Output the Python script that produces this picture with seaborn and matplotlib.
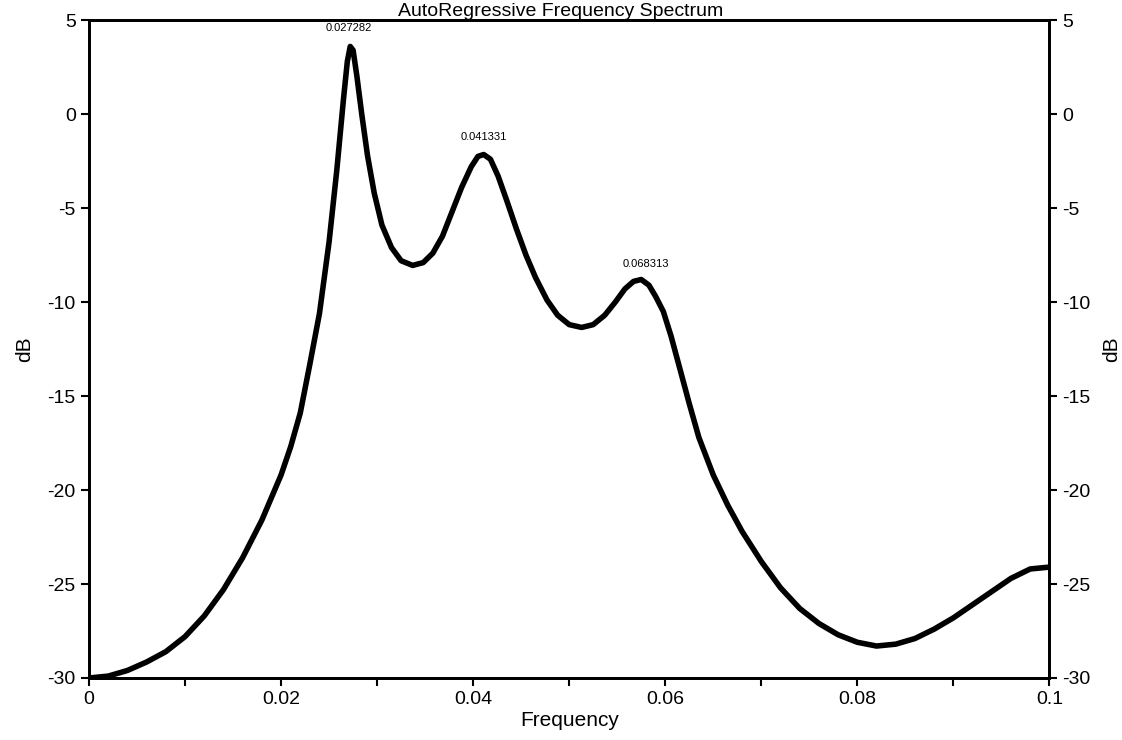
import matplotlib
matplotlib.use("Agg")
import matplotlib.pyplot as plt
import seaborn as sns
import pandas as pd

# values
freq = [0.0, 0.002, 0.004, 0.006, 0.008, 0.010, 0.012, 0.014, 0.016, 0.018,
        0.020, 0.021, 0.022, 0.023, 0.024, 0.025, 0.0258, 0.0265, 0.0269, 0.0272,
        0.0275, 0.0279, 0.0284, 0.029, 0.0297, 0.0305, 0.0315, 0.0325, 0.0337, 0.0348,
        0.0358, 0.0368, 0.0378, 0.0388, 0.0398, 0.0405, 0.0411, 0.0418, 0.0426, 0.0435,
        0.0445, 0.0455, 0.0465, 0.0477, 0.0488, 0.050, 0.0513, 0.0525, 0.0537, 0.0548,
        0.0558, 0.0567, 0.0575, 0.0583, 0.059, 0.0598, 0.0606, 0.0615, 0.0625, 0.0635,
        0.065, 0.0665, 0.068, 0.070, 0.072, 0.074, 0.076, 0.078, 0.080, 0.082,
        0.084, 0.086, 0.088, 0.090, 0.092, 0.094, 0.096, 0.098, 0.100]
db = [-30.0, -29.9, -29.6, -29.15, -28.6, -27.8, -26.7, -25.3, -23.6, -21.6,
      -19.2, -17.7, -15.9, -13.3, -10.6, -6.8, -3.0, 0.8, 2.8, 3.6,
      3.4, 2.0, 0.0, -2.2, -4.2, -5.9, -7.1, -7.8, -8.05, -7.9,
      -7.4, -6.5, -5.2, -3.9, -2.8, -2.25, -2.15, -2.4, -3.3, -4.6,
      -6.1, -7.5, -8.7, -9.9, -10.7, -11.2, -11.35, -11.2, -10.7, -10.0,
      -9.3, -8.9, -8.8, -9.1, -9.7, -10.5, -11.8, -13.5, -15.4, -17.2,
      -19.2, -20.8, -22.2, -23.8, -25.2, -26.3, -27.1, -27.7, -28.1, -28.3,
      -28.2, -27.9, -27.4, -26.8, -26.1, -25.4, -24.7, -24.2, -24.1]

peak_freq = [0.0271, 0.0411, 0.0580]
peak_db = [4.6, -1.2, -8.0]
peak_labels = ["0.027282", "0.041331", "0.068313"]

x_ticks = [0, 0.02, 0.04, 0.06, 0.08, 0.1]
x_ticklabels = ["0", "0.02", "0.04", "0.06", "0.08", "0.1"]
y_ticks = [5, 0, -5, -10, -15, -20, -25, -30]

spec_df = pd.DataFrame({"Frequency": freq, "dB": db})

sns.set_style("ticks")
plt.rcParams["font.family"] = ["Liberation Sans", "DejaVu Sans"]
plt.rcParams["axes.unicode_minus"] = False
plt.rcParams["text.color"] = "black"
plt.rcParams["axes.labelcolor"] = "black"
plt.rcParams["xtick.color"] = "black"
plt.rcParams["ytick.color"] = "black"

fig = plt.figure(figsize=(11.22, 7.4), dpi=100)
ax = fig.add_axes([0.0793, 0.0838, 0.856, 0.889])

sns.lineplot(data=spec_df, x="Frequency", y="dB", ax=ax, color="black", linewidth=4, sort=False)

ax.set_xlim(0, 0.1)
ax.set_ylim(-30, 5)
ax.set_xticks(x_ticks)
ax.set_xticklabels(x_ticklabels)
ax.set_xticks([0.01, 0.03, 0.05, 0.07, 0.09], minor=True)
ax.set_yticks(y_ticks)
ax.tick_params(axis="both", which="both", direction="out", length=6, width=1.5,
               labelsize=14, colors="black")
ax.set_xlabel("Frequency", fontsize=15, labelpad=2)
ax.set_ylabel("dB", fontsize=15, labelpad=10)

for s in ax.spines.values():
    s.set_visible(True)
    s.set_linewidth(2)
    s.set_color("black")

ax2 = ax.twinx()
ax2.set_ylim(-30, 5)
ax2.set_yticks(y_ticks)
ax2.tick_params(axis="y", direction="out", length=6, width=1.5, labelsize=14, colors="black")
ax2.set_ylabel("dB", fontsize=15, rotation=90, labelpad=8)
for s in ax2.spines.values():
    s.set_linewidth(2)
    s.set_color("black")

for fx, fy, lab in zip(peak_freq, peak_db, peak_labels):
    ax.text(fx, fy, lab, ha="center", va="center", fontsize=8)

fig.text(0.5, 0.985, "AutoRegressive Frequency Spectrum", ha="center", va="center", fontsize=14)

fig.savefig("out.png", dpi=100)
